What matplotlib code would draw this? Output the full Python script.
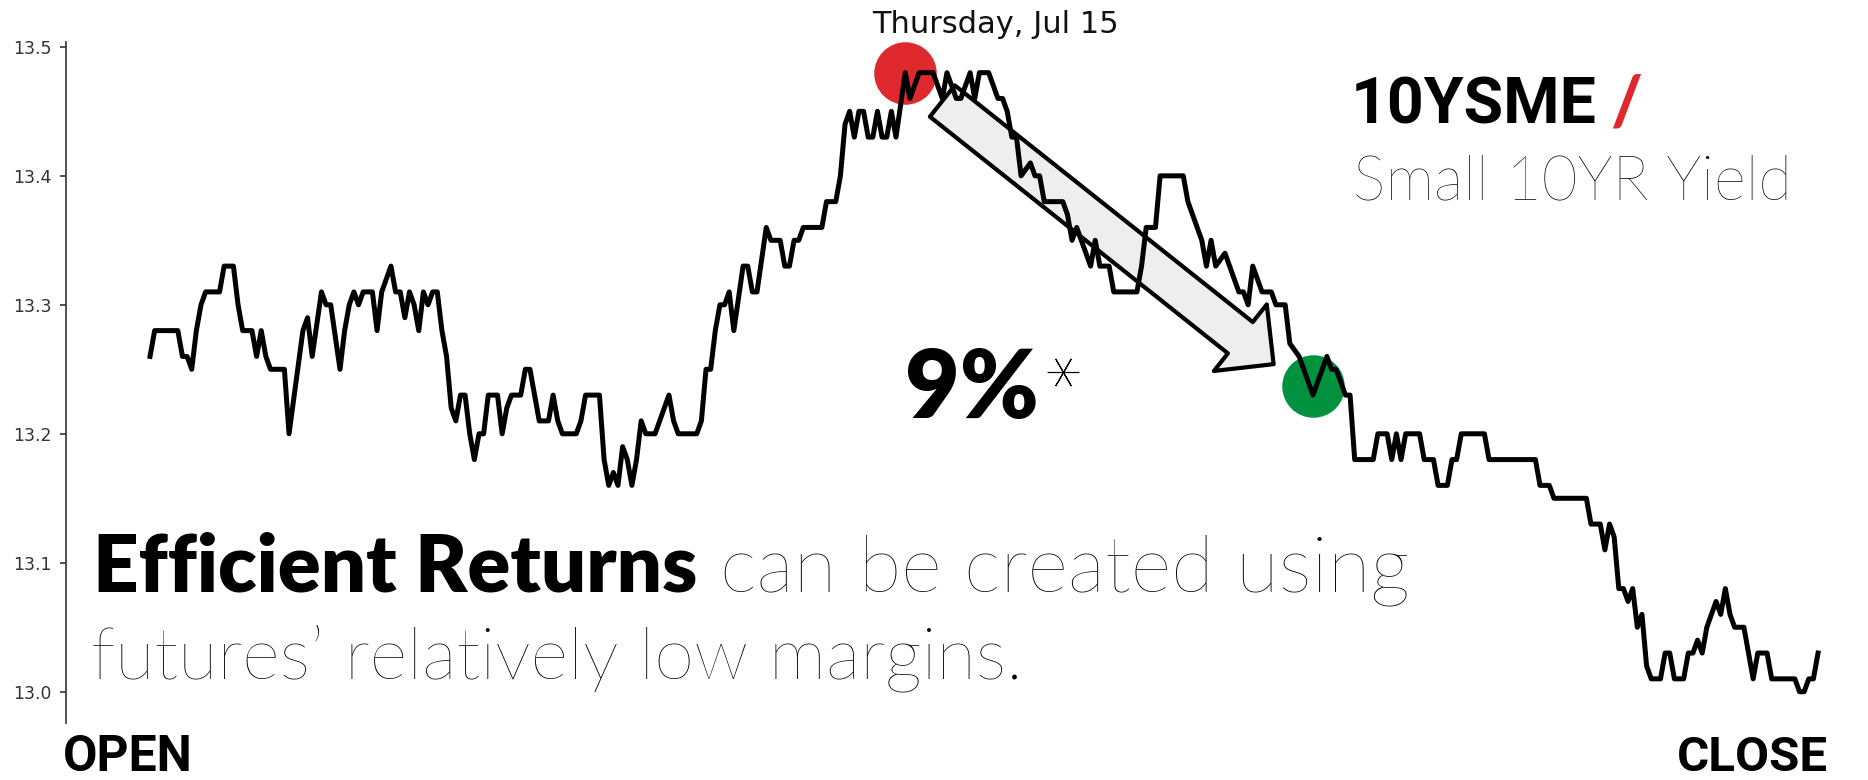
import numpy as np
import matplotlib
matplotlib.use('Agg')
import matplotlib.pyplot as plt
from matplotlib.lines import Line2D

# =============================================================================
#                               Data
# =============================================================================

# bar index (session time) and last price, only the bars where the path turns
bar_time = [0, 1, 6, 7, 8, 9, 10, 11, 12, 15, 16, 18,
            19, 20, 22, 23, 24, 25, 26, 29, 30, 33, 34, 35,
            37, 38, 39, 41, 42, 43, 44, 45, 46, 48, 49, 50,
            51, 52, 53, 54, 55, 56, 57, 58, 59, 60, 61, 62,
            63, 64, 65, 66, 67, 68, 69, 70, 71, 72, 73, 75,
            76, 77, 78, 80, 81, 82, 83, 84, 86, 87, 88, 89,
            92, 93, 94, 97, 98, 99, 100, 101, 102, 103, 104, 105,
            106, 107, 109, 110, 112, 113, 114, 118, 119, 120, 121, 122,
            123, 124, 125, 126, 128, 129, 130, 131, 133, 134, 136, 137,
            138, 139, 140, 141, 145, 146, 148, 149, 150, 151, 152, 153,
            154, 155, 156, 157, 158, 159, 160, 161, 163, 164, 166, 169,
            171, 172, 174, 175, 177, 178, 179, 181, 183, 184, 185, 186,
            187, 188, 190, 191, 192, 193, 197, 198, 199, 200, 201, 203,
            204, 205, 207, 208, 213, 214, 215, 217, 218, 223, 224, 226,
            227, 228, 229, 230, 232, 235, 236, 237, 238, 240, 242, 243,
            245, 246, 248, 251, 254, 255, 256, 258, 259, 260, 264, 265,
            267, 268, 269, 270, 271, 274, 275, 277, 278, 280, 281, 282,
            283, 288, 289, 299, 300, 302, 303, 310, 311, 313, 314, 315,
            316, 317, 318, 319, 320, 321, 322, 323, 324, 326, 327, 328,
            329, 331, 332, 333, 334, 335, 336, 337, 338, 339, 340, 341,
            342, 344, 345, 346, 347, 349, 350, 355, 356, 357, 358, 359,
            360]

bar_price = [13.26, 13.28, 13.28, 13.26, 13.26, 13.25, 13.28, 13.30, 13.31, 13.31, 13.33, 13.33,
             13.30, 13.28, 13.28, 13.26, 13.28, 13.26, 13.25, 13.25, 13.20, 13.28, 13.29, 13.26,
             13.31, 13.30, 13.30, 13.25, 13.28, 13.30, 13.31, 13.30, 13.31, 13.31, 13.28, 13.31,
             13.32, 13.33, 13.31, 13.31, 13.29, 13.31, 13.30, 13.28, 13.31, 13.30, 13.31, 13.31,
             13.28, 13.26, 13.22, 13.21, 13.23, 13.23, 13.20, 13.18, 13.20, 13.20, 13.23, 13.23,
             13.20, 13.22, 13.23, 13.23, 13.25, 13.25, 13.23, 13.21, 13.21, 13.23, 13.21, 13.20,
             13.20, 13.21, 13.23, 13.23, 13.18, 13.16, 13.17, 13.16, 13.19, 13.18, 13.16, 13.18,
             13.21, 13.20, 13.20, 13.21, 13.23, 13.21, 13.20, 13.20, 13.21, 13.25, 13.25, 13.28,
             13.30, 13.30, 13.31, 13.28, 13.33, 13.33, 13.31, 13.31, 13.36, 13.35, 13.35, 13.33,
             13.33, 13.35, 13.35, 13.36, 13.36, 13.38, 13.38, 13.40, 13.44, 13.45, 13.43, 13.45,
             13.45, 13.43, 13.43, 13.45, 13.43, 13.43, 13.45, 13.43, 13.48, 13.46, 13.48, 13.48,
             13.46, 13.48, 13.46, 13.46, 13.48, 13.46, 13.48, 13.48, 13.46, 13.46, 13.45, 13.43,
             13.43, 13.40, 13.41, 13.40, 13.40, 13.38, 13.38, 13.37, 13.35, 13.36, 13.35, 13.33,
             13.35, 13.33, 13.33, 13.31, 13.31, 13.33, 13.36, 13.36, 13.40, 13.40, 13.38, 13.36,
             13.35, 13.33, 13.35, 13.33, 13.34, 13.31, 13.31, 13.30, 13.33, 13.31, 13.31, 13.30,
             13.30, 13.27, 13.26, 13.23, 13.26, 13.25, 13.25, 13.23, 13.23, 13.18, 13.18, 13.20,
             13.20, 13.18, 13.20, 13.18, 13.20, 13.20, 13.18, 13.18, 13.16, 13.16, 13.18, 13.18,
             13.20, 13.20, 13.18, 13.18, 13.16, 13.16, 13.15, 13.15, 13.13, 13.13, 13.11, 13.13,
             13.12, 13.08, 13.08, 13.07, 13.08, 13.05, 13.06, 13.02, 13.01, 13.01, 13.03, 13.03,
             13.01, 13.01, 13.03, 13.03, 13.04, 13.03, 13.05, 13.06, 13.07, 13.06, 13.08, 13.06,
             13.05, 13.05, 13.03, 13.01, 13.03, 13.03, 13.01, 13.01, 13.00, 13.00, 13.01, 13.01,
             13.03]

# entry / exit markers
high_time, high_price = 163, 13.48
low_time, low_price = 251, 13.237

# arrow from the high towards the low
arrow_from = (171.0, 13.458)
arrow_to = (242.5, 13.254)

y_ticks = [13.0, 13.1, 13.2, 13.3, 13.4, 13.5]

date_label = 'Thursday, Jul 15'
ticker = '10YSME'
ticker_name = 'Small 10YR Yield'
pct_label = '9%'
line1_bold = 'Efficient Returns'
line1_rest = 'can be created using'
line2 = 'futures\u2019 relatively low margins.'

RED = '#e0292e'
GREEN = '#00923f'
LIGHT_FONT = 'Lato'
LIGHT_WEIGHT = 'light'

# =============================================================================
#                               Plotting
# =============================================================================

W, H = 1868, 780
fig = plt.figure(figsize=(W / 100, H / 100), dpi=100)
ax = fig.add_axes([65.7 / W, 57.3 / H, 1784.3 / W, 681 / H])

ax.plot(bar_time, bar_price, color='black', lw=3.6, zorder=3)
ax.plot([high_time], [high_price], 'o', ms=45, color=RED, mew=0, zorder=1)
ax.plot([low_time], [low_price], 'o', ms=45, color=GREEN, mew=0, zorder=1)

ax.annotate('', xy=arrow_to, xytext=arrow_from, zorder=2,
            arrowprops=dict(arrowstyle='simple,head_length=30.6,head_width=61.2,tail_width=28.8',
                            mutation_scale=1, fc='#eeeeee', ec='black', lw=3,
                            shrinkA=0, shrinkB=0))

ax.set_xlim(-18.2, 366.9)
ax.set_ylim(12.976, 13.504)
for s in ['top', 'right', 'bottom']:
    ax.spines[s].set_visible(False)
ax.spines['left'].set_color('#333333')
ax.spines['left'].set_linewidth(1.2)
ax.set_xticks([])
ax.set_yticks(y_ticks)
ax.set_yticklabels(['%.1f' % v for v in y_ticks])
ax.tick_params(axis='y', labelsize=12.4, colors='#333333', length=4, width=1.2, pad=6)

renderer = fig.canvas.get_renderer()


def put(x, y, s, width=None, **kw):
    # x, y in output pixels from the top-left corner, y is the baseline
    t = fig.text(x / W, 1 - y / H, s, va='baseline', **kw)
    if width:
        w = t.get_window_extent(renderer).width
        t.set_fontsize(t.get_fontsize() * width / w)
    return t


put(872, 33, date_label, fontsize=22, color='#111111')

tk = put(1351, 124, ticker, 246, fontsize=40, family='Roboto', weight='bold', color='black')
put(1610, 124, '/', fontsize=tk.get_fontsize() * 1.05, family='Lato', weight='black', color=RED)
put(1353, 199, ticker_name, 440, fontsize=40, family=LIGHT_FONT, weight=LIGHT_WEIGHT, color='black')

put(905, 418, pct_label, 134, fontsize=60, family='Lato', weight='heavy', color='black')
fig.add_artist(Line2D([1063 / W], [1 - 372 / H], transform=fig.transFigure,
                      marker=(6, 2, 90), ms=22.6, mew=0.8, color='black'))

put(93, 591, line1_bold, 605, fontsize=50, family='Lato', weight='heavy', color='black')
put(720, 591, line1_rest, 690, fontsize=50, family=LIGHT_FONT, weight=LIGHT_WEIGHT, color='black')
put(91, 679, line2, 931, fontsize=50, family=LIGHT_FONT, weight=LIGHT_WEIGHT, color='black')

put(63, 771, 'OPEN', 130, fontsize=35, family='Roboto', weight='bold', color='black')
put(1828, 771, 'CLOSE', 151, fontsize=35, family='Roboto', weight='bold', color='black', ha='right')

fig.savefig('out.png', dpi=100)
